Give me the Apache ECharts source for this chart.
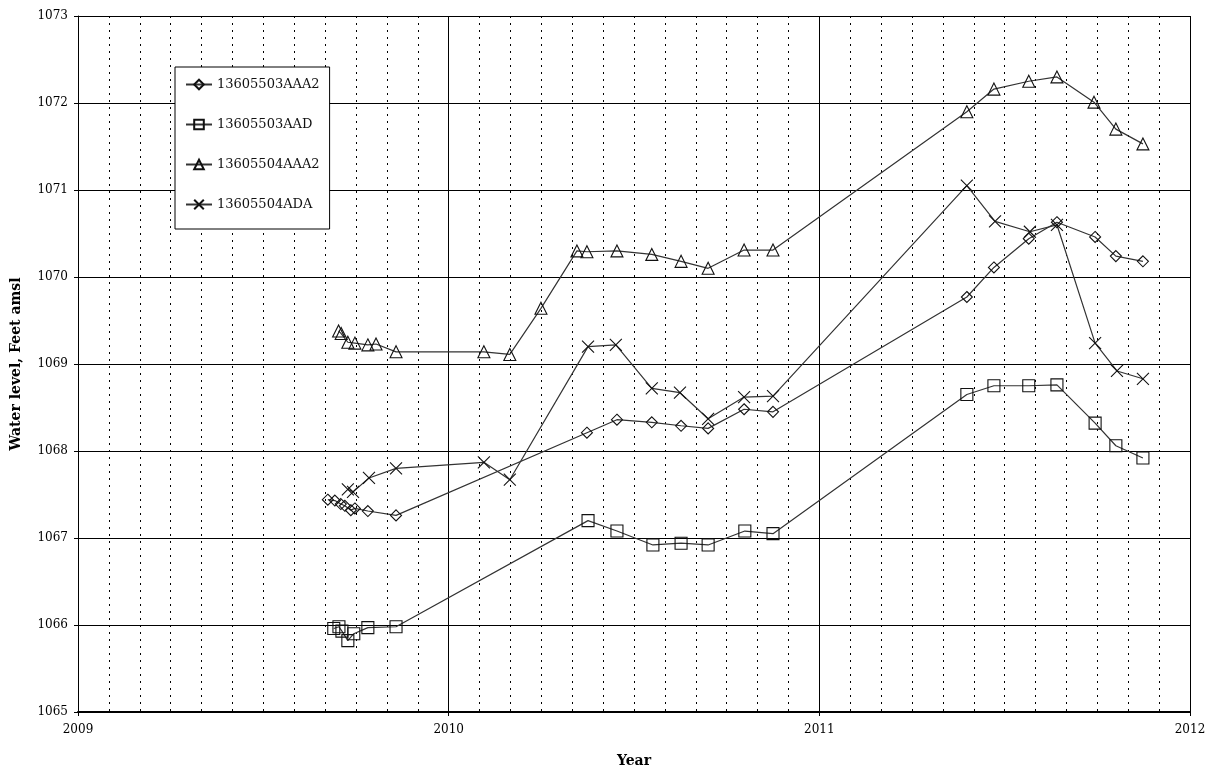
<!DOCTYPE html>
<html>
<head>
<meta charset="utf-8">
<script src="https://cdn.jsdelivr.net/npm/echarts@6/dist/echarts.min.js"></script>
<style>
  html, body { margin: 0; padding: 0; background: #fff; }
  #chart { width: 1212px; height: 770px; }
</style>
</head>
<body>
<div id="chart"></div>
<script>
// Well names
const wellNames = ['13605503AAA2', '13605503AAD', '13605504AAA2', '13605504ADA'];

// Axis ticks
const yearTicks = [2009, 2010, 2011, 2012];
const levelTicks = [1065, 1066, 1067, 1068, 1069, 1070, 1071, 1072, 1073];

// 13605503AAA2 (diamonds): decimal year / water level, ft amsl
const aaa2Years = [2009.674, 2009.693, 2009.709, 2009.720, 2009.736, 2009.747, 2009.782, 2009.858,
  2010.373, 2010.454, 2010.548, 2010.627, 2010.700, 2010.797, 2010.875,
  2011.398, 2011.471, 2011.565, 2011.641, 2011.744, 2011.800, 2011.873];
const aaa2Levels = [1067.44, 1067.43, 1067.39, 1067.37, 1067.32, 1067.34, 1067.31, 1067.26,
  1068.21, 1068.36, 1068.33, 1068.29, 1068.26, 1068.48, 1068.45,
  1069.77, 1070.11, 1070.44, 1070.63, 1070.46, 1070.24, 1070.18];

// 13605503AAD (squares)
const aadYears = [2009.690, 2009.704, 2009.712, 2009.728, 2009.744, 2009.782, 2009.858,
  2010.376, 2010.454, 2010.551, 2010.627, 2010.700, 2010.799, 2010.875,
  2011.398, 2011.471, 2011.565, 2011.641, 2011.744, 2011.800, 2011.873];
const aadLevels = [1065.96, 1065.98, 1065.93, 1065.82, 1065.90, 1065.97, 1065.98,
  1067.20, 1067.08, 1066.92, 1066.94, 1066.92, 1067.08, 1067.05,
  1068.65, 1068.75, 1068.75, 1068.76, 1068.32, 1068.06, 1067.92];

// 13605504AAA2 (triangles)
const b4aaa2Years = [2009.703, 2009.710, 2009.728, 2009.747, 2009.782, 2009.804, 2009.858,
  2010.095, 2010.165, 2010.249, 2010.346, 2010.373, 2010.454, 2010.548, 2010.627, 2010.700, 2010.797, 2010.875,
  2011.398, 2011.471, 2011.565, 2011.641, 2011.741, 2011.800, 2011.873];
const b4aaa2Levels = [1069.38, 1069.35, 1069.25, 1069.24, 1069.22, 1069.23, 1069.14,
  1069.14, 1069.11, 1069.64, 1070.30, 1070.29, 1070.30, 1070.26, 1070.18, 1070.10, 1070.31, 1070.31,
  1071.90, 1072.16, 1072.25, 1072.30, 1072.01, 1071.70, 1071.53];

// 13605504ADA (crosses)
const adaYears = [2009.728, 2009.742, 2009.785, 2009.858,
  2010.095, 2010.165, 2010.376, 2010.451, 2010.548, 2010.624, 2010.700, 2010.797, 2010.875,
  2011.398, 2011.474, 2011.568, 2011.641, 2011.744, 2011.803, 2011.873];
const adaLevels = [1067.56, 1067.53, 1067.69, 1067.80,
  1067.87, 1067.67, 1069.20, 1069.22, 1068.72, 1068.67, 1068.37, 1068.62, 1068.63,
  1071.05, 1070.64, 1070.52, 1070.60, 1069.24, 1068.92, 1068.83];

const pair = (xs, ys) => xs.map((x, i) => [x, ys[i]]);

const serif = '"DejaVu Serif", "Liberation Serif", serif';
const crossPath = 'path://M0,0L10,10M10,0L0,10';

function makeSeries(name, data, symbol, size) {
  return {
    name: name,
    type: 'line',
    data: data,
    symbol: symbol,
    symbolSize: size,
    showAllSymbol: true,
    lineStyle: { color: '#333', width: 1.2 },
    itemStyle: { color: 'rgba(255,255,255,0)', borderColor: '#111', borderWidth: 1.1 },
    emphasis: { disabled: true },
    animation: false,
    z: 3
  };
}

const chart = echarts.init(document.getElementById('chart'), null, { renderer: 'canvas' });

chart.setOption({
  backgroundColor: '#fff',
  animation: false,
  grid: { left: 78, right: 22, top: 16, bottom: 58, outerBoundsMode: 'none', containLabel: false },
  legend: {
    orient: 'vertical',
    left: 175,
    top: 67,
    padding: [11, 10, 18, 10],
    itemGap: 27,
    itemWidth: 26,
    itemHeight: 12,
    backgroundColor: '#fff',
    borderColor: '#000',
    borderWidth: 1,
    borderRadius: 0,
    textStyle: { fontFamily: serif, fontSize: 13, color: '#111' },
    data: wellNames
  },
  xAxis: {
    type: 'value',
    min: yearTicks[0],
    max: yearTicks[yearTicks.length - 1],
    interval: 1,
    name: 'Year',
    nameLocation: 'middle',
    nameGap: 42,
    nameTextStyle: { fontFamily: serif, fontSize: 14, fontWeight: 'bold', color: '#000' },
    axisLine: { show: true, lineStyle: { color: '#000', width: 2 } },
    axisTick: { show: true, length: 4, lineStyle: { color: '#000' } },
    axisLabel: { fontFamily: serif, fontSize: 12, color: '#000', margin: 12, formatter: v => String(v) },
    splitLine: { show: true, lineStyle: { color: '#000', width: 1 } },
    minorTick: { show: false, splitNumber: 12 },
    minorSplitLine: { show: true, lineStyle: { color: '#000', width: 1, type: [2, 5] } }
  },
  yAxis: {
    type: 'value',
    min: levelTicks[0],
    max: levelTicks[levelTicks.length - 1],
    interval: 1,
    name: 'Water level, Feet amsl',
    nameLocation: 'middle',
    nameGap: 55,
    nameTextStyle: { fontFamily: serif, fontSize: 14, fontWeight: 'bold', color: '#000' },
    axisLine: { show: true, lineStyle: { color: '#000', width: 1 } },
    axisTick: { show: true, length: 4, lineStyle: { color: '#000' } },
    axisLabel: { fontFamily: serif, fontSize: 12, color: '#000', margin: 10, formatter: v => String(v) },
    splitLine: { show: true, lineStyle: { color: '#000', width: 1 } }
  },
  series: [
    makeSeries(wellNames[0], pair(aaa2Years, aaa2Levels), 'diamond', 11),
    makeSeries(wellNames[1], pair(aadYears, aadLevels), 'rect', 12),
    makeSeries(wellNames[2], pair(b4aaa2Years, b4aaa2Levels), 'triangle', 12),
    makeSeries(wellNames[3], pair(adaYears, adaLevels), crossPath, 12)
  ]
});
</script>
</body>
</html>
